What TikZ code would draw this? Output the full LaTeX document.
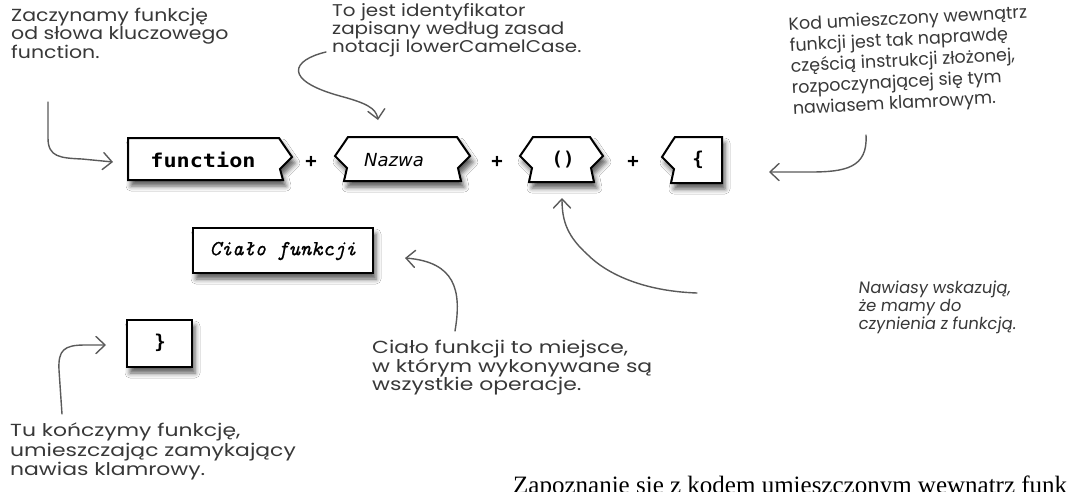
\documentclass[tikz,border=0pt]{standalone}
\usepackage{fontspec}
\usetikzlibrary{arrows.meta,shadows.blur}
\newfontfamily\hand[FakeStretch=1.25]{Poppins}
\newfontfamily\handb[FakeStretch=1.17]{Poppins}
\newfontfamily\handn{Poppins}
\newfontfamily\handsl[FakeSlant=0.12]{Poppins}
\newfontfamily\monob{DejaVu Sans Mono}
\newfontfamily\sansit{DejaVu Sans}
\newfontfamily\timesf{Liberation Serif}
\newfontfamily\lmmono[FakeBold=0.6]{Latin Modern Mono}
\definecolor{handc}{HTML}{383838}
\definecolor{arrc}{HTML}{5A5A5A}
\tikzset{
  boxline/.style={draw=black, line width=2pt, fill=white, line join=miter,
    blur shadow={shadow xshift=3pt, shadow yshift=-6pt, shadow opacity=65, shadow blur radius=5pt}},
  codetxt/.style={inner sep=0pt, font=\monob\bfseries\fontsize{19}{19}\selectfont},
  note/.style={anchor=north west, inner sep=0pt, align=left, text=handc,
    font=\hand\fontsize{17.5}{18}\selectfont},
  pointer/.style={draw=arrc, line width=1.4pt, line cap=round,
    -{Straight Barb[length=9pt,width=17pt,line cap=round]}}
}
\begin{document}
\begin{tikzpicture}[x=1pt,y=-1pt]
\useasboundingbox (0,0) rectangle (1068,491);
\clip (0,0) rectangle (1068,491);
\fill[white] (0,0) rectangle (1068,491);

% ---- boxes
\path[boxline] (128,138) -- (279,138) -- (283,144) -- (292,157) -- (280,169) -- (283,180) -- (128,180) -- cycle;
\node[codetxt] (fn) at (203,160) {\scalebox{1.15}[1]{function}};

\path[boxline] (348,137) -- (457,137) -- (461,143) -- (470,156) -- (458,168) -- (461,181)
  -- (344,181) -- (347,168) -- (335,156) -- (344,143) -- cycle;
\node[inner sep=0pt, font=\sansit\itshape\fontsize{18}{18}\selectfont] (nazwa) at (394,160) {Nazwa};

\path[boxline] (533,137) -- (590,137) -- (594,143) -- (603,156) -- (591,168) -- (594,182)
  -- (529,182) -- (532,168) -- (520,156) -- (529,143) -- cycle;
\node[codetxt] (par) at (563,160) {()};

\path[boxline] (675,137) -- (722,137) -- (722,183) -- (671,183) -- (674,169) -- (662,157) -- (671,143) -- cycle;
\node[codetxt] (brace) at (698,160) {\{};

\node[font=\monob\bfseries\fontsize{19}{19}\selectfont] (p1) at (311,162) {+};
\node[font=\monob\bfseries\fontsize{19}{19}\selectfont] (p2) at (497,162) {+};
\node[font=\monob\bfseries\fontsize{19}{19}\selectfont] (p3) at (633,162) {+};

\path[boxline] (193,228) rectangle (373,273);
\node[inner sep=0pt, font=\lmmono\itshape\fontsize{21.5}{21.5}\selectfont] (body) at (283,251) {Ciało funkcji};

\path[boxline] (127,320) rectangle (192,367);
\node[codetxt] (close) at (160,343) {\}};

% ---- notes
\node[note, font=\handb\fontsize{17.5}{18}\selectfont] (n1) at (11,8) {Zaczynamy funkcję\\od słowa kluczowego\\function.};
\node[note, font=\handb\fontsize{17}{18}\selectfont] (n2) at (332,3) {To jest identyfikator\\zapisany według zasad\\notacji lowerCamelCase.};
\node[note, rotate=3, anchor=north west, font=\handn\fontsize{17.5}{21}\selectfont] (n3) at (788,17) {Kod umieszczony wewnątrz\\funkcji jest tak naprawdę\\częścią instrukcji złożonej,\\rozpoczynającej się tym\\nawiasem klamrowym.};
\node[note, font=\handsl\fontsize{16.5}{18}\selectfont] (n4) at (858,281) {Nawiasy wskazują,\\że mamy do\\czynienia z funkcją.};
\node[note, font=\hand\fontsize{17.5}{18.5}\selectfont] (n5) at (372,340) {Ciało funkcji to miejsce,\\w którym wykonywane są\\wszystkie operacje.};
\node[note, font=\hand\fontsize{17.5}{19.5}\selectfont] (n6) at (10,423) {Tu kończymy funkcję,\\umieszczając zamykający\\nawias klamrowy.};

% ---- pointer ends
\coordinate (a1s) at (48,102);  \coordinate (a1e) at (113,162);
\coordinate (a2s) at (326,52);  \coordinate (a2e) at (378,120);
\coordinate (a3s) at (866,135); \coordinate (a3e) at (769,172);
\coordinate (a4s) at (697,293); \coordinate (a4e) at (562,198);
\coordinate (a5s) at (455,331); \coordinate (a5e) at (405,258);
\coordinate (a6s) at (62,414);  \coordinate (a6e) at (106,345);

\draw[pointer] (a1s) -- (48,138) .. controls (48,157) and (60,158) .. (82,159) -- (a1e);
\draw[pointer] (a2s) .. controls (292,60) and (282,80) .. (340,96) .. controls (366,103) and (376,108) .. (a2e);
\draw[pointer] (a3s) .. controls (868,168) and (845,172) .. (810,172) -- (a3e);
\draw[pointer] (a4s) .. controls (640,291) and (605,272) .. (588,255) .. controls (568,237) and (562,222) .. (a4e);
\draw[pointer] (a5s) .. controls (462,290) and (455,262) .. (a5e);
\draw[pointer] (a6s) -- (59,370) .. controls (58,350) and (64,345) .. (85,345) -- (a6e);

% ---- cut-off caption at the bottom
\node[anchor=base west, inner sep=0pt, font=\timesf\fontsize{25}{25}\selectfont] (cap) at (513,493) {Zapoznanie się z kodem umieszczonym wewnątrz funkcji};
\end{tikzpicture}
\end{document}
